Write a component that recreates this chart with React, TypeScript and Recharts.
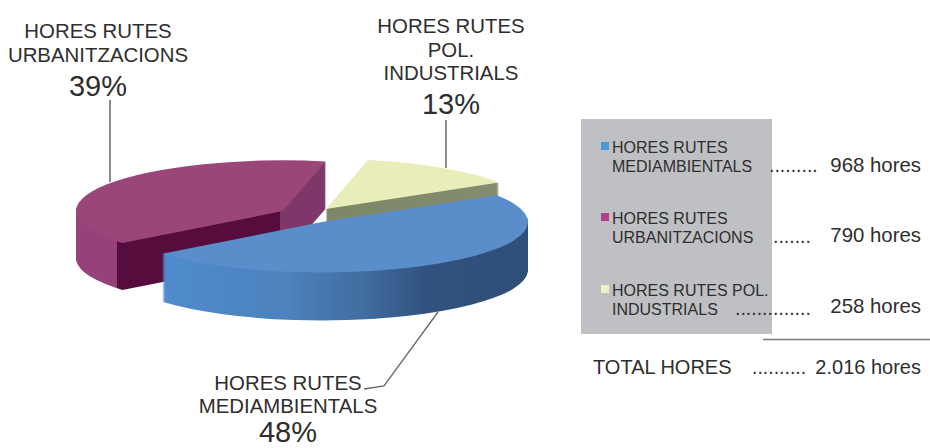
import { PieChart, Pie, Cell } from 'recharts';

const categories = ['MEDIAMBIENTALS', 'URBANITZACIONS', 'POL. INDUSTRIALS'];
const hours = [968, 790, 258];
const chartData = categories.map((name, i) => ({ name, value: hours[i] }));

const topColors = ['#5a8ecb', '#9b4679', '#e9edb9'];
const wallFills = ['url(#wallBlue)', 'url(#wallPurple)', 'url(#wallYellow)'];

const WIDTH = 930;
const HEIGHT = 448;
const SQUASH = 0.245;
const FONT = '"Liberation Sans", Arial, sans-serif';
const INK = '#2e2e2e';

// exploded centre, radius and wall height of each slice, in page pixels
const centers = [
  { x: 322, y: 222, r: 206, depth: 48 },
  { x: 283, y: 211, r: 207, depth: 47 },
  { x: 326, y: 209, r: 204, depth: 40 },
];
const drawOrder = [1, 2, 0];

function slicePie(slice: number, drop: number, fill: string) {
  return (
    <Pie
      key={`${slice}-${drop}`}
      data={chartData}
      dataKey="value"
      cx={centers[slice].x}
      cy={(centers[slice].y + drop) / SQUASH}
      innerRadius={0}
      outerRadius={centers[slice].r}
      startAngle={32}
      endAngle={-328}
      paddingAngle={0}
      stroke="none"
      isAnimationActive={false}
    >
      {chartData.map((_, i) => (
        <Cell key={i} fill={i === slice ? fill : 'none'} stroke="none" />
      ))}
    </Pie>
  );
}

function slice3d(slice: number) {
  const pies = [];
  for (let drop = centers[slice].depth; drop > 0; drop--) pies.push(slicePie(slice, drop, wallFills[slice]));
  pies.push(slicePie(slice, 0, topColors[slice]));
  return pies;
}

const labels = [
  { x: 98, lines: [[38, 'HORES RUTES'], [62, 'URBANITZACIONS']], pct: '39%', pctY: 96 },
  { x: 451, lines: [[33, 'HORES RUTES'], [57, 'POL.'], [80, 'INDUSTRIALS']], pct: '13%', pctY: 114 },
  { x: 288, lines: [[390, 'HORES RUTES'], [413, 'MEDIAMBIENTALS']], pct: '48%', pctY: 442 },
];

const legendRows = [
  { color: '#4a9ad8', first: 'HORES RUTES', second: 'MEDIAMBIENTALS', y: 153, dots: '.........', dotsX: 769, value: 165, hours: '968 hores' },
  { color: '#b0408c', first: 'HORES RUTES', second: 'URBANITZACIONS', y: 224, dots: '.......', dotsX: 773, value: 235, hours: '790 hores' },
  { color: '#f1f2c4', first: 'HORES RUTES POL.', second: 'INDUSTRIALS', y: 296, dots: '..............', dotsX: 735, value: 306, hours: '258 hores' },
];

export default function App() {
  return (
    <div style={{ position: 'absolute', left: 0, top: 0, width: WIDTH, height: HEIGHT, background: '#fff', overflow: 'hidden' }}>
      <div style={{ position: 'absolute', left: 0, top: 0, transform: `scaleY(${SQUASH})`, transformOrigin: 'top left' }}>
        <PieChart width={WIDTH} height={HEIGHT / SQUASH} margin={{ top: 0, right: 0, bottom: 0, left: 0 }}>
          <defs>
            <linearGradient id="wallBlue" gradientUnits="userSpaceOnUse" x1={160} y1={0} x2={530} y2={0}>
              <stop offset="0%" stopColor="#4f8bcb" />
              <stop offset="35%" stopColor="#4c82bd" />
              <stop offset="55%" stopColor="#416d9f" />
              <stop offset="72%" stopColor="#31527f" />
              <stop offset="100%" stopColor="#2f4f78" />
            </linearGradient>
            <linearGradient id="wallPurple" gradientUnits="userSpaceOnUse" x1={70} y1={0} x2={335} y2={0}>
              <stop offset="17.7%" stopColor="#96417a" />
              <stop offset="17.7%" stopColor="#560d3d" />
              <stop offset="79.2%" stopColor="#560d3d" />
              <stop offset="79.2%" stopColor="#7f3669" />
            </linearGradient>
            <linearGradient id="wallYellow" gradientUnits="userSpaceOnUse" x1={320} y1={0} x2={505} y2={0}>
              <stop offset="0%" stopColor="#7c8768" />
              <stop offset="100%" stopColor="#848d6e" />
            </linearGradient>
          </defs>
          {drawOrder.map((slice) => slice3d(slice))}
        </PieChart>
      </div>

      <svg width={WIDTH} height={HEIGHT} style={{ position: 'absolute', left: 0, top: 0, fontFamily: FONT }}>
        <line x1={110} y1={100} x2={110} y2={182} stroke="#666" strokeWidth={1.5} />
        <line x1={446} y1={120} x2={446} y2={168} stroke="#666" strokeWidth={1.5} />
        <polyline points="364,389 384,386 438,312" fill="none" stroke="#666" strokeWidth={1.3} />

        {labels.map((l) => (
          <g key={l.pct} textAnchor="middle" fill={INK}>
            {l.lines.map(([y, text]) => (
              <text key={text as string} x={l.x} y={y as number} fontSize={20.4}>{text}</text>
            ))}
            <text x={l.x} y={l.pctY} fontSize={29}>{l.pct}</text>
          </g>
        ))}

        <rect x={581} y={119} width={191} height={215} fill="#bfc0c3" />
        {legendRows.map((r) => (
          <g key={r.hours} fill={INK}>
            <rect x={601} y={r.y - 11} width={8} height={8} fill={r.color} />
            <text x={612} y={r.y} fontSize={16}>{r.first}</text>
            <text x={612} y={r.y + 19} fontSize={16}>{r.second}</text>
            <text x={r.dotsX} y={r.y + 19} fontSize={19.5}>{r.dots}</text>
            <text x={921} y={r.value + 7} fontSize={20.4} textAnchor="end">{r.hours}</text>
          </g>
        ))}
        <line x1={763} y1={339.5} x2={930} y2={339.5} stroke="#777" strokeWidth={1.5} />
        <text x={593} y={374} fontSize={20} fill={INK}>TOTAL HORES</text>
        <text x={752} y={374} fontSize={19.5} fill={INK}>..........</text>
        <text x={921} y={374} fontSize={20} fill={INK} textAnchor="end">2.016 hores</text>
      </svg>
    </div>
  );
}
